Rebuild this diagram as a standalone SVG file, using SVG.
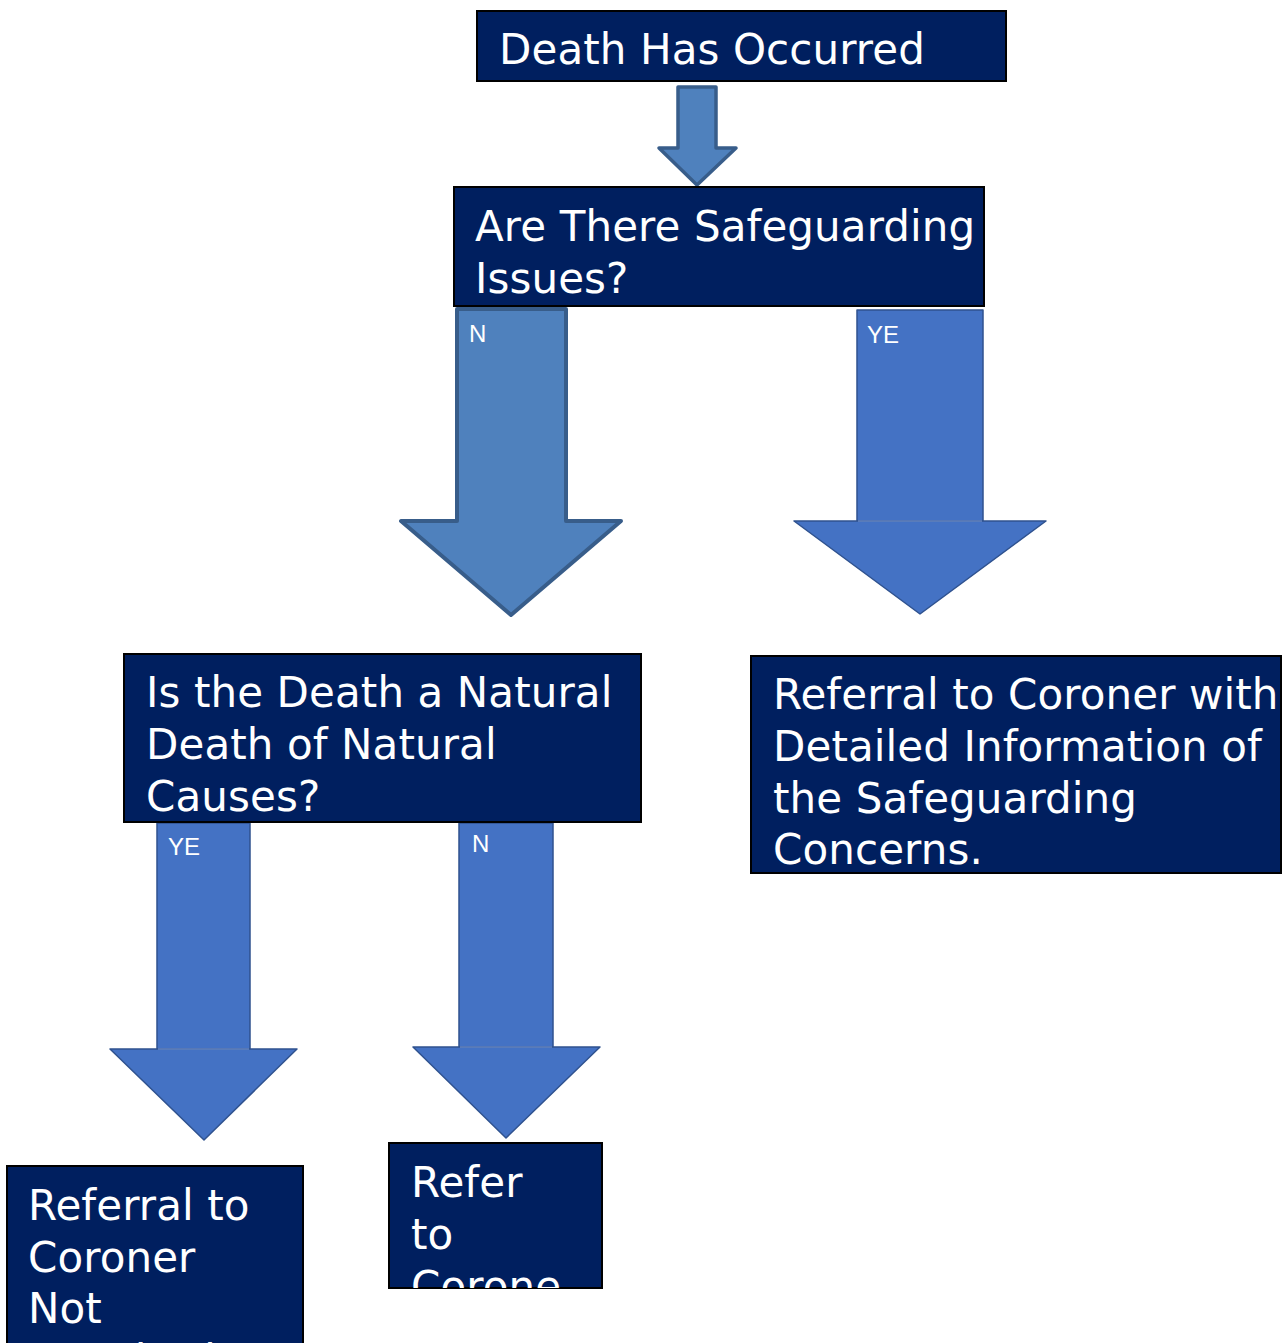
<svg xmlns="http://www.w3.org/2000/svg" width="1284" height="1343" viewBox="0 0 1284 1343">
<style>
.box{fill:#001F5F;stroke:#000;stroke-width:2}
.t{font-family:"DejaVu Sans",Verdana,sans-serif;font-size:42px;letter-spacing:0.1px;fill:#fff}
.lbl{font-family:"Liberation Sans",Arial,sans-serif;font-size:24px;fill:#fff}
.a1{fill:#4F81BD;stroke:#385D8A;stroke-linejoin:round}
.a2{fill:#4472C4;stroke:#2F528F;stroke-width:1.5;stroke-linejoin:round}
.seam{stroke:#7F9FDA;stroke-width:1}
</style>
<defs>
<clipPath id="c6"><rect x="389" y="1143" width="213" height="145"/></clipPath>
</defs>
<rect width="1284" height="1343" fill="#fff"/>
<g id="connectors">
<polygon class="a1" stroke-width="3.5" points="678,87 716,87 716,148 736,148 697,185 659,148 678,148"/>
<g id="arrow-no-1">
<polygon class="a1" stroke-width="4" points="457,309 566,309 566,521 621,521 511,615 401,521 457,521"/>
<text class="lbl" x="469" y="342">N</text>
</g>
<g id="arrow-yes-1">
<rect class="a2" x="857" y="310" width="126" height="211"/>
<polygon class="a2" points="794,521 1046,521 920,614"/>
<line class="seam" x1="858" y1="521" x2="982" y2="521"/>
<text class="lbl" x="867" y="343">YE</text>
</g>
<g id="arrow-yes-2">
<rect class="a2" x="157" y="823" width="93" height="226"/>
<polygon class="a2" points="110,1049 297,1049 204,1140"/>
<line class="seam" x1="158" y1="1049" x2="249" y2="1049"/>
<text class="lbl" x="168" y="855">YE</text>
</g>
<g id="arrow-no-2">
<rect class="a2" x="459" y="823" width="94" height="224"/>
<polygon class="a2" points="413,1047 600,1047 506,1138"/>
<line class="seam" x1="460" y1="1047" x2="552" y2="1047"/>
<text class="lbl" x="472" y="852">N</text>
</g>
</g>
<g id="death-occurred">
<rect class="box" x="477" y="11" width="529" height="70"/>
<text class="t" x="499" y="64">Death Has Occurred</text>
</g>
<g id="safeguarding-issues">
<rect class="box" x="454" y="187" width="530" height="119"/>
<text class="t" x="475" y="241">Are There Safeguarding</text>
<text class="t" x="475" y="293">Issues?</text>
</g>
<g id="natural-death">
<rect class="box" x="124" y="654" width="517" height="168"/>
<text class="t" x="146" y="707">Is the Death a Natural</text>
<text class="t" x="146" y="759">Death of Natural</text>
<text class="t" x="146" y="811">Causes?</text>
</g>
<g id="referral-safeguarding">
<rect class="box" x="751" y="656" width="530" height="217"/>
<text class="t" x="773" y="709">Referral to Coroner with</text>
<text class="t" x="773" y="761">Detailed Information of</text>
<text class="t" x="773" y="813">the Safeguarding</text>
<text class="t" x="773" y="864">Concerns.</text>
</g>
<g id="referral-not-required">
<rect class="box" x="7" y="1166" width="296" height="200"/>
<text class="t" x="28" y="1220">Referral to</text>
<text class="t" x="28" y="1272">Coroner</text>
<text class="t" x="28" y="1323">Not</text>
<text class="t" x="28" y="1375">Required</text>
</g>
<g id="refer-to-coroner">
<rect class="box" x="389" y="1143" width="213" height="145"/>
<g clip-path="url(#c6)">
<text class="t" x="411" y="1197">Refer</text>
<text class="t" x="411" y="1249">to</text>
<text class="t" x="411" y="1301">Corone</text>
</g>
</g>
</svg>
